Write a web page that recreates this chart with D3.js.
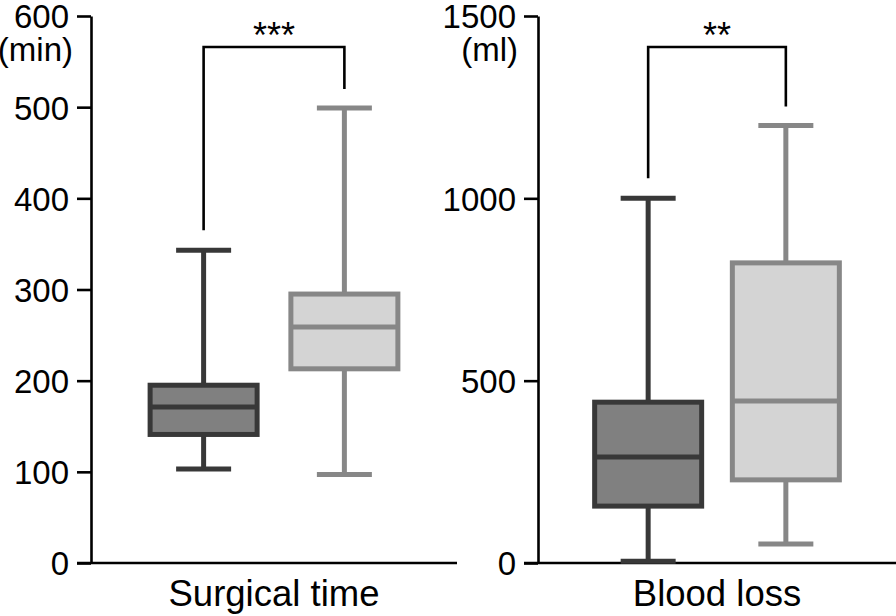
<!DOCTYPE html>
<html><head><meta charset="utf-8">
<script src="https://cdn.jsdelivr.net/npm/d3@7"></script>
<style>body{margin:0;background:#fff}svg{display:block}text{font-family:"Liberation Sans",Arial,sans-serif;fill:#000}</style>
</head><body><svg id="c" width="896" height="616"></svg>
<script>
const groups = ["A", "B"];
const panelTitles = ["Surgical time", "Blood loss"];
const units = ["(min)", "(ml)"];
const yMax = [600, 1500];
const yTicks = [[0,100,200,300,400,500,600],[0,500,1000,1500]];
// [min, q1, median, q3, max]
const surgicalTime = [[103,141,171,195,343],[97,213,259,295,499]];
const bloodLoss = [[5,156,291,441,1000],[52,228,444,823,1200]];
const significance = ["***", "**"];

const panelData = [surgicalTime, bloodLoss];
const svg = d3.select("#c");
const stroke = ["#383838", "#878787"];
const fill = ["#808080", "#d4d4d4"];
const panels = [{x0:91, x1:457, tick0:77}, {x0:538, x1:896, tick0:524}];
const yTop = 16, yBot = 563;

panels.forEach((p, pi) => {
  const g = svg.append("g");
  const y = d3.scaleLinear().domain([0, yMax[pi]]).range([yBot, yTop]);
  const x = d3.scalePoint().domain(groups).range([p.x0, p.x1]).padding(0.8);
  const ax = g.append("g").attr("transform", `translate(${p.x0},0)`)
    .call(d3.axisLeft(y).tickValues(yTicks[pi]).tickFormat(d3.format("d")).tickSize(14).tickPadding(8).tickSizeOuter(0));
  ax.select(".domain").attr("stroke", "#000").attr("stroke-width", 2.6);
  ax.selectAll(".tick line").attr("stroke", "#000").attr("stroke-width", 2.6);
  ax.selectAll(".tick text").style("font-size", "33px").attr("dy", "0.36em").style("fill","#000");
  g.append("line").attr("x1", p.tick0).attr("x2", p.x1).attr("y1", yBot).attr("y2", yBot)
    .attr("stroke", "#000").attr("stroke-width", 2.6);
  g.append("text").attr("x", pi === 0 ? 73 : 518).attr("y", 61).attr("text-anchor", "end")
    .style("font-size", "33px").text(units[pi]);
  g.append("text").attr("x", (x(groups[0]) + x(groups[1])) / 2).attr("y", 606)
    .attr("text-anchor", "middle").style("font-size", "36.5px").text(panelTitles[pi]);
  const bw = 112, cw = 55;
  panelData[pi].forEach((d, gi) => {
    const cx = x(groups[gi]);
    const [mn, q1, med, q3, mx] = d;
    const s = stroke[gi];
    g.append("line").attr("x1", cx).attr("x2", cx).attr("y1", y(mx)).attr("y2", y(q3)).attr("stroke", s).attr("stroke-width", 5);
    g.append("line").attr("x1", cx).attr("x2", cx).attr("y1", y(q1)).attr("y2", y(mn)).attr("stroke", s).attr("stroke-width", 5);
    g.append("line").attr("x1", cx - cw/2).attr("x2", cx + cw/2).attr("y1", y(mx)).attr("y2", y(mx)).attr("stroke", s).attr("stroke-width", 5);
    g.append("line").attr("x1", cx - cw/2).attr("x2", cx + cw/2).attr("y1", y(mn)).attr("y2", y(mn)).attr("stroke", s).attr("stroke-width", 5);
    g.append("rect").attr("x", cx - bw/2 + 2.5).attr("y", y(q3)).attr("width", bw - 5).attr("height", y(q1) - y(q3))
      .attr("fill", fill[gi]).attr("stroke", s).attr("stroke-width", 5);
    g.append("line").attr("x1", cx - bw/2 + 2.5).attr("x2", cx + bw/2 - 2.5).attr("y1", y(med)).attr("y2", y(med)).attr("stroke", s).attr("stroke-width", 5);
  });
  const xa = x(groups[0]), xb = x(groups[1]);
  const by = 47;
  const la = y(panelData[pi][0][4]) - 20, lb = y(panelData[pi][1][4]) - 19;
  g.append("path").attr("d", `M${xa},${la}V${by}H${xb}V${lb}`).attr("fill", "none")
    .attr("stroke", "#000").attr("stroke-width", 2.6);
  g.append("text").attr("x", (xa + xb) / 2).attr("y", 48).attr("text-anchor", "middle")
    .style("font-size", "36px").text(significance[pi]);
});
</script></body></html>
